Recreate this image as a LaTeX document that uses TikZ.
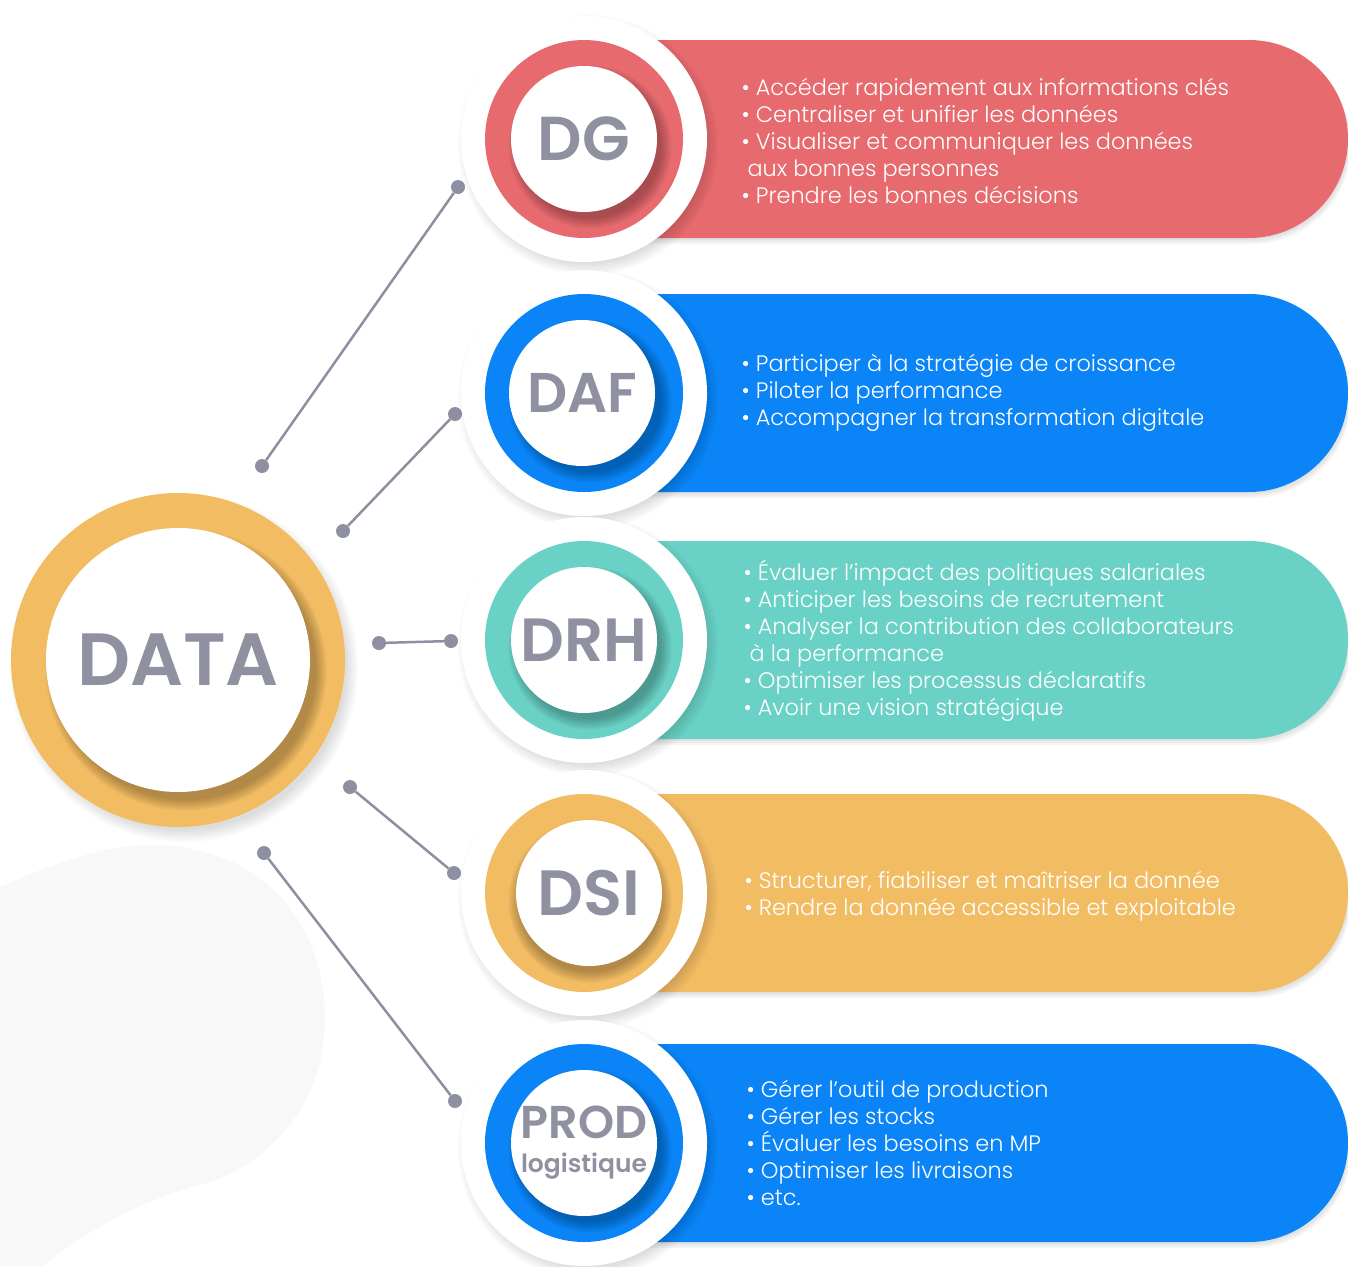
\documentclass[tikz,border=0pt]{standalone}
\usepackage{fontspec}
\setmainfont{Poppins}[BoldFont=* SemiBold]
\newfontfamily\lightfont{Poppins}[UprightFont=* Light]
\usepackage{tikz}

\definecolor{dgred}{HTML}{E66A6E}
\definecolor{dafblue}{HTML}{0A84F6}
\definecolor{drhteal}{HTML}{69D1C5}
\definecolor{dsiyellow}{HTML}{F2BC63}
\definecolor{labelgray}{HTML}{8F90A0}
\definecolor{linegray}{HTML}{8E8FA0}
\definecolor{blobgray}{HTML}{F8F8F8}

\begin{document}
\begin{tikzpicture}[x=1pt,y=-1pt,
	ring/.style={circle,fill=white,minimum size=246pt,inner sep=0pt},
	disc/.style={circle,fill=#1,minimum size=198pt,inner sep=0pt},
	core/.style={circle,fill=white,minimum size=146pt,inner sep=0pt,align=center,
		text=labelgray,font=\bfseries\fontsize{#1}{#1}\selectfont},
	dot/.style={circle,fill=linegray,minimum size=14pt,inner sep=0pt},
	link/.style={draw=linegray,line width=2.5pt},
	items/.style={anchor=west,text=white,align=left,font=\lightfont\fontsize{22.4}{27}\selectfont}]
	
	\useasboundingbox (0,0) rectangle (1348,1266);
	\fill[blobgray] (0,887) .. controls (60,860) and (110,845) .. (150,845)
		.. controls (260,845) and (325,920) .. (325,1020)
		.. controls (325,1110) and (260,1170) .. (200,1185)
		.. controls (140,1200) and (80,1235) .. (43,1266) -- (0,1266) -- cycle;
	
	% connectors
	\node[dot] (dgA) at (262,466) {};
	\node[dot] (dgB) at (458,187) {};
	\node[dot] (dafA) at (343,531) {};
	\node[dot] (dafB) at (455,414) {};
	\node[dot] (drhA) at (379,643) {};
	\node[dot] (drhB) at (451,641) {};
	\node[dot] (dsiA) at (350,787) {};
	\node[dot] (dsiB) at (454,873) {};
	\node[dot] (prodA) at (264,853) {};
	\node[dot] (prodB) at (455,1101) {};
	\draw[link] (dgA) -- (dgB);
	\draw[link] (dafA) -- (dafB);
	\draw[link] (drhA) -- (drhB);
	\draw[link] (dsiA) -- (dsiB);
	\draw[link] (prodA) -- (prodB);
	
	% DG
	\foreach \k in {2,4,6}
		\fill[black,opacity=.04] (620,40+\k) -- (1249+\k/2,40+\k) arc[start angle=-90,end angle=90,radius=99] -- (620,238+\k) -- cycle;
	\fill[dgred] (620,40) -- (1249,40) arc[start angle=-90,end angle=90,radius=99] -- (620,238) -- cycle;
	\foreach \k in {0,...,6}
		\fill[black,opacity=.02] (588,145) circle (118+\k*2);
	\node[ring] (dgring) at (584,139) {};
	\node[disc=dgred] (dgdisc) at (584,139) {};
	\foreach \k in {0,...,7}
		\fill[black,opacity=.035] (590,147) circle (71+\k*1.5);
	\node[core=62] (dg) at (584,139) {DG};
	\node[items] (dgtxt) at (738,141) {• Accéder rapidement aux informations clés\\• Centraliser et unifier les données\\• Visualiser et communiquer les données\\\hspace*{6pt}aux bonnes personnes\\• Prendre les bonnes décisions};
	
	% DAF
	\begin{scope}[shift={(0,254)}]
	\foreach \k in {2,4,6}
		\fill[black,opacity=.04] (620,40+\k) -- (1249+\k/2,40+\k) arc[start angle=-90,end angle=90,radius=99] -- (620,238+\k) -- cycle;
	\fill[dafblue] (620,40) -- (1249,40) arc[start angle=-90,end angle=90,radius=99] -- (620,238) -- cycle;
	\foreach \k in {0,...,6}
		\fill[black,opacity=.02] (588,145) circle (118+\k*2);
	\node[ring] (dafring) at (584,139) {};
	\node[disc=dafblue] (dafdisc) at (584,139) {};
	\foreach \k in {0,...,7}
		\fill[black,opacity=.035] (590,147) circle (71+\k*1.5);
	\node[core=56] (daf) at (582,139) {DAF};
	\node[items] (daftxt) at (738,139) {• Participer à la stratégie de croissance\\• Piloter la performance\\• Accompagner la transformation digitale};
	\end{scope}
	
	% DRH
	\begin{scope}[shift={(0,501)}]
	\foreach \k in {2,4,6}
		\fill[black,opacity=.04] (620,40+\k) -- (1249+\k/2,40+\k) arc[start angle=-90,end angle=90,radius=99] -- (620,238+\k) -- cycle;
	\fill[drhteal] (620,40) -- (1249,40) arc[start angle=-90,end angle=90,radius=99] -- (620,238) -- cycle;
	\foreach \k in {0,...,6}
		\fill[black,opacity=.02] (588,145) circle (118+\k*2);
	\node[ring] (drhring) at (584,139) {};
	\node[disc=drhteal] (drhdisc) at (584,139) {};
	\foreach \k in {0,...,7}
		\fill[black,opacity=.035] (590,147) circle (71+\k*1.5);
	\node[core=61] (drh) at (584,139) {DRH};
	\node[items] (drhtxt) at (740,140) {• Évaluer l’impact des politiques salariales\\• Anticiper les besoins de recrutement\\• Analyser la contribution des collaborateurs\\\hspace*{6pt}à la performance\\• Optimiser les processus déclaratifs\\• Avoir une vision stratégique};
	\end{scope}
	
	% DSI
	\begin{scope}[shift={(0,754)}]
	\foreach \k in {2,4,6}
		\fill[black,opacity=.04] (620,40+\k) -- (1249+\k/2,40+\k) arc[start angle=-90,end angle=90,radius=99] -- (620,238+\k) -- cycle;
	\fill[dsiyellow] (620,40) -- (1249,40) arc[start angle=-90,end angle=90,radius=99] -- (620,238) -- cycle;
	\foreach \k in {0,...,6}
		\fill[black,opacity=.02] (588,145) circle (118+\k*2);
	\node[ring] (dsiring) at (584,139) {};
	\node[disc=dsiyellow] (dsidisc) at (584,139) {};
	\foreach \k in {0,...,7}
		\fill[black,opacity=.035] (590,147) circle (71+\k*1.5);
	\node[core=64] (dsi) at (589,139) {DSI};
	\node[items] (dsitxt) at (741,142) {• Structurer, fiabiliser et maîtriser la donnée\\• Rendre la donnée accessible et exploitable};
	\end{scope}
	
	% PROD
	\begin{scope}[shift={(0,1004)}]
	\foreach \k in {2,4,6}
		\fill[black,opacity=.04] (620,40+\k) -- (1249+\k/2,40+\k) arc[start angle=-90,end angle=90,radius=99] -- (620,238+\k) -- cycle;
	\fill[dafblue] (620,40) -- (1249,40) arc[start angle=-90,end angle=90,radius=99] -- (620,238) -- cycle;
	\foreach \k in {0,...,6}
		\fill[black,opacity=.02] (588,145) circle (118+\k*2);
	\node[ring] (prodring) at (584,139) {};
	\node[disc=dafblue] (proddisc) at (584,139) {};
	\foreach \k in {0,...,7}
		\fill[black,opacity=.035] (590,147) circle (71+\k*1.5);
	\node[core=46] (prod) at (584,139) {PROD\\[-12pt]{\fontsize{25}{25}\selectfont logistique}};
	\node[items] (prodtxt) at (743,139) {• Gérer l’outil de production\\• Gérer les stocks\\• Évaluer les besoins en MP\\• Optimiser les livraisons\\• etc.};
	\end{scope}
	
	% DATA
	\foreach \k in {0,...,6}
		\fill[black,opacity=.02] (184,668) circle (162+\k*2);
	\node[disc=dsiyellow,minimum size=334pt] (datadisc) at (178,660) {};
	\foreach \k in {0,...,7}
		\fill[black,opacity=.035] (186,670) circle (130+\k*1.5);
	\node[core=74,minimum size=264pt] (data) at (178,660) {DATA};
	
\end{tikzpicture}
\end{document}
